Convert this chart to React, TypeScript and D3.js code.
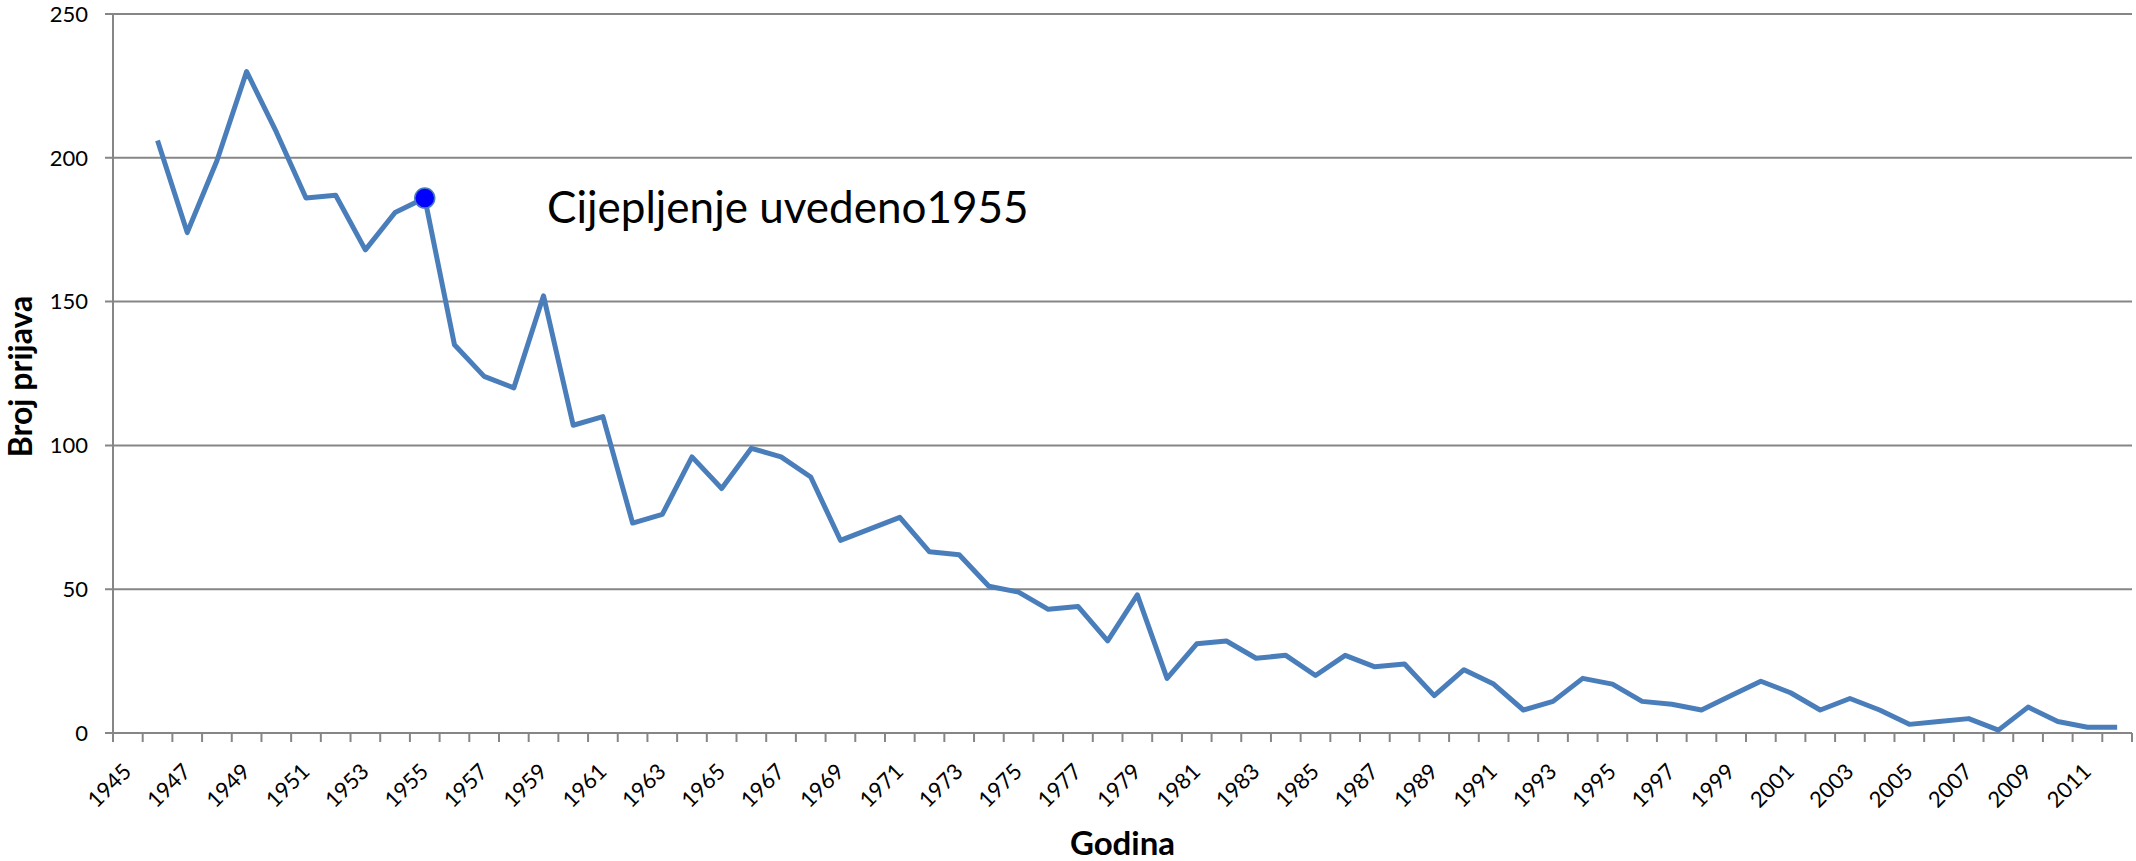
import React, { useEffect, useRef } from 'react'
import * as d3 from 'd3'

// years on the category axis (1945 has no report)
const years = [
  1945, 1946, 1947, 1948, 1949, 1950, 1951, 1952, 1953, 1954, 1955, 1956, 1957, 1958, 1959,
  1960, 1961, 1962, 1963, 1964, 1965, 1966, 1967, 1968, 1969, 1970, 1971, 1972, 1973, 1974,
  1975, 1976, 1977, 1978, 1979, 1980, 1981, 1982, 1983, 1984, 1985, 1986, 1987, 1988, 1989,
  1990, 1991, 1992, 1993, 1994, 1995, 1996, 1997, 1998, 1999, 2000, 2001, 2002, 2003, 2004,
  2005, 2006, 2007, 2008, 2009, 2010, 2011, 2012,
]

// number of reports per year
const reports: (number | null)[] = [
  null, 206, 174, 199, 230, 209, 186, 187, 168, 181, 186, 135, 124, 120, 152,
  107, 110, 73, 76, 96, 85, 99, 96, 89, 67, 71, 75, 63, 62, 51,
  49, 43, 44, 32, 48, 19, 31, 32, 26, 27, 20, 27, 23, 24, 13,
  22, 17, 8, 11, 19, 17, 11, 10, 8, 13, 18, 14, 8, 12, 8,
  3, 4, 5, 1, 9, 4, 2, 2,
]

const yTicks = [0, 50, 100, 150, 200, 250]
const labelYears = years.filter((_, i) => i % 2 === 0)

const markerYear = 1955
const annotation = 'Cijepljenje uvedeno1955'
const yTitle = 'Broj prijava'
const xTitle = 'Godina'

const App = () => {
  const svgRef = useRef<SVGSVGElement>(null)

  useEffect(() => {
    const width = 2136
    const height = 861
    const margin = { top: 14, right: 4, bottom: 128, left: 113 }
    const font = 'Lato, "Open Sans", sans-serif'
    const grey = '#868686'

    const svg = d3.select(svgRef.current).attr('width', width).attr('height', height)
    svg.selectAll('*').remove()

    const x = d3
      .scaleBand<number>()
      .domain(years)
      .range([margin.left, width - margin.right])
    const y = d3
      .scaleLinear()
      .domain([0, 250])
      .range([height - margin.bottom, margin.top])

    // gridlines + y tick marks
    svg
      .append('g')
      .selectAll('line')
      .data(yTicks)
      .enter()
      .append('line')
      .attr('x1', margin.left - 8)
      .attr('x2', width - margin.right)
      .attr('y1', (d) => y(d))
      .attr('y2', (d) => y(d))
      .attr('stroke', grey)
      .attr('stroke-width', 2)

    // y axis line
    svg
      .append('line')
      .attr('x1', margin.left)
      .attr('x2', margin.left)
      .attr('y1', y(0))
      .attr('y2', y(250))
      .attr('stroke', grey)
      .attr('stroke-width', 2)

    // y tick labels
    svg
      .append('g')
      .selectAll('text')
      .data(yTicks)
      .enter()
      .append('text')
      .attr('x', 88)
      .attr('y', (d) => y(d))
      .attr('dy', '0.35em')
      .attr('text-anchor', 'end')
      .style('font-family', font)
      .style('font-size', '22px')
      .text((d) => d)

    // x tick marks between categories
    const bounds = years.map((d) => x(d) as number).concat([width - margin.right])
    svg
      .append('g')
      .selectAll('line')
      .data(bounds)
      .enter()
      .append('line')
      .attr('x1', (d) => d)
      .attr('x2', (d) => d)
      .attr('y1', y(0))
      .attr('y2', y(0) + 9)
      .attr('stroke', grey)
      .attr('stroke-width', 2)

    // x tick labels, rotated
    svg
      .append('g')
      .selectAll('text')
      .data(labelYears)
      .enter()
      .append('text')
      .attr('transform', (d) => {
        const cx = (x(d) as number) + x.bandwidth() / 2 + 5
        return `translate(${cx}, ${y(0) + 40}) rotate(-45)`
      })
      .attr('text-anchor', 'end')
      .style('font-family', font)
      .style('font-size', '22px')
      .text((d) => d)

    // the series line
    const line = d3
      .line<number | null>()
      .defined((d) => d != null)
      .x((d, i) => (x(years[i]) as number) + x.bandwidth() / 2)
      .y((d) => y(d as number))

    svg
      .append('path')
      .datum(reports)
      .attr('d', line)
      .attr('fill', 'none')
      .attr('stroke', '#4a7ebb')
      .attr('stroke-width', 5)
      .attr('stroke-linejoin', 'round')

    // highlighted point at 1955
    const mi = years.indexOf(markerYear)
    svg
      .append('circle')
      .attr('cx', (x(markerYear) as number) + x.bandwidth() / 2)
      .attr('cy', y(reports[mi] as number))
      .attr('r', 10)
      .attr('fill', '#0000ff')
      .attr('stroke', '#4a7ebb')
      .attr('stroke-width', 1.5)

    // annotation
    svg
      .append('text')
      .attr('x', 547)
      .attr('y', 223)
      .style('font-family', font)
      .style('font-size', '44px')
      .text(annotation)

    // axis titles
    svg
      .append('text')
      .attr('transform', `translate(32, ${(y(0) + y(250)) / 2 + 3}) rotate(-90)`)
      .attr('text-anchor', 'middle')
      .style('font-family', font)
      .style('font-size', '32px')
      .style('font-weight', 'bold')
      .text(yTitle)

    svg
      .append('text')
      .attr('x', (margin.left + width - margin.right) / 2)
      .attr('y', 855)
      .attr('text-anchor', 'middle')
      .style('font-family', font)
      .style('font-size', '33px')
      .style('font-weight', 'bold')
      .text(xTitle)
  }, [])

  return (
    <svg
      ref={svgRef}
      style={{ position: 'absolute', left: 0, top: 0, background: '#fff' }}
    ></svg>
  )
}

export default App
